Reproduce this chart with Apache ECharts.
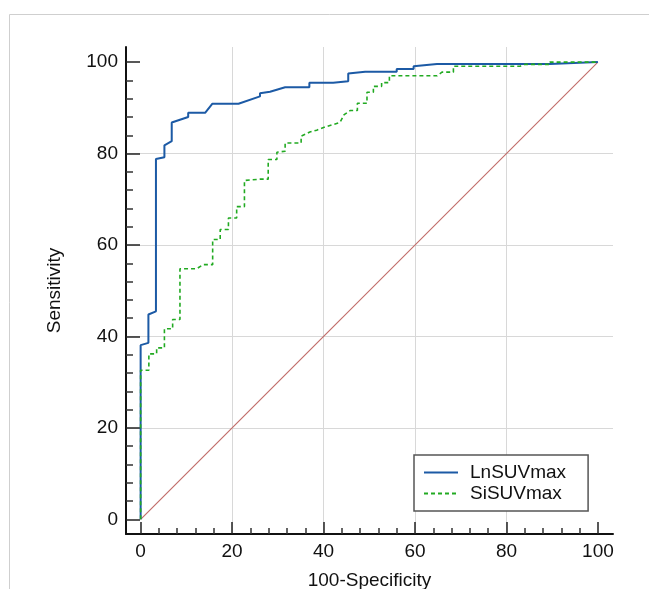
<!DOCTYPE html>
<html>
<head>
<meta charset="utf-8">
<script src="https://cdn.jsdelivr.net/npm/echarts@6/dist/echarts.min.js"></script>
<style>
html,body{margin:0;padding:0;background:#fff;}
#chart{width:649px;height:589px;}
</style>
</head>
<body>
<div id="chart"></div>
<script>
// ROC curve vertices (100-Specificity, Sensitivity)
const lnX = [0,0,1.7,1.7,3.35,3.35,5.2,5.2,6.8,6.8,8.6,10.4,10.4,14.1,15.7,21.4,26.1,26.1,28.3,31.6,36.9,36.9,42.1,45.4,45.4,49.1,56.0,56.0,59.7,59.7,64.8,89.5,89.5,100];
const lnY = [0,38.1,38.6,44.8,45.5,78.8,79.2,81.8,82.7,86.8,87.4,88.0,88.9,88.9,90.9,90.9,92.5,93.2,93.5,94.5,94.5,95.5,95.5,95.8,97.5,97.9,97.9,98.5,98.5,99.1,99.6,99.6,100,100];

const siX = [0,0,1.8,1.8,3.5,3.5,5.2,5.2,7.0,7.0,8.6,8.6,12.25,13.7,15.75,15.75,17.4,17.4,19.2,19.2,21.0,21.0,22.7,22.7,26.1,27.9,27.9,29.8,29.8,31.6,31.6,35.1,35.1,37.0,38.5,40.3,43.6,44.5,45.8,47.4,47.4,49.5,49.5,50.9,50.9,52.7,52.7,54.4,54.4,64.8,65.9,68.4,68.4,83.0,84.0,89.5,89.5,100];
const siY = [0,32.6,32.6,36.2,36.2,37.5,37.5,41.7,41.7,43.7,43.7,54.8,54.8,55.7,55.7,61.2,61.2,63.4,63.4,65.9,65.9,68.4,68.4,74.1,74.4,74.4,78.7,78.7,80.3,80.5,82.3,82.3,83.8,84.7,85.1,85.8,86.8,88.5,89.4,89.4,91.0,91.0,93.4,93.4,94.7,94.7,95.5,95.5,97.0,97.0,97.8,97.8,99.1,99.1,99.5,99.5,100,100];

const refX = [0,100];
const refY = [0,100];

const tickValues = [0,20,40,60,80,100];
const seriesNames = ['LnSUVmax','SiSUVmax'];
const xName = '100-Specificity';
const yName = 'Sensitivity';

const zip = (a,b) => a.map((v,i) => [v,b[i]]);
const FONT = "'Liberation Sans', Arial, sans-serif";

function axisCfg(isX){
  return {
    type: 'value',
    min: -3.2,
    max: 103.3,
    splitNumber: 5,
    name: isX ? xName : yName,
    nameLocation: 'middle',
    nameGap: isX ? 37 : 62,
    nameTextStyle: {fontFamily: FONT, fontSize: 19, color: '#111'},
    axisLine: {show: true, onZero: false, lineStyle: {color: '#111', width: 2}},
    axisTick: {show: true, inside: true, length: isX ? 12 : 14, customValues: tickValues,
               lineStyle: {color: '#222', width: 1.5}},
    minorTick: {show: true, splitNumber: 5, length: isX ? 6 : 7, lineStyle: {color: '#333', width: 1.5}},
    axisLabel: {customValues: tickValues, fontFamily: FONT, fontSize: 19, color: '#111', margin: 8,
                formatter: v => (Math.abs(v % 20) < 1e-6 ? String(v) : '')},
    splitLine: {show: true, showMinLine: false, showMaxLine: false, lineStyle: {color: '#d8d8d8', width: 1}}
  };
}

const chart = echarts.init(document.getElementById('chart'), null, {renderer: 'canvas'});
chart.setOption({
  backgroundColor: '#fff',
  animation: false,
  grid: {left: 126, right: 36, top: 47, bottom: 55, containLabel: false, outerBoundsMode: 'none'},
  xAxis: axisCfg(true),
  yAxis: axisCfg(false),
  legend: {
    data: seriesNames,
    orient: 'vertical',
    left: 414, top: 455,
    padding: [8, 22, 8, 9],
    itemGap: 2,
    itemWidth: 34, itemHeight: 4,
    itemStyle: {color: 'transparent', opacity: 0, borderWidth: 0},
    backgroundColor: '#fff',
    borderColor: '#555', borderWidth: 1.5,
    textStyle: {fontFamily: FONT, fontSize: 19, color: '#111', padding: [0,0,0,7]}
  },
  graphic: [{
    type: 'rect', silent: true, z: -10,
    shape: {x: 9.5, y: 14.5, width: 800, height: 800},
    style: {fill: 'none', stroke: '#cfcfcf', lineWidth: 1}
  }],
  series: [
    {type: 'line', name: 'ref', data: zip(refX, refY), symbol: 'none', silent: true,
     lineStyle: {color: '#c26e6b', width: 1.2}, z: 1},
    {type: 'line', name: seriesNames[0], data: zip(lnX, lnY), symbol: 'none',
     lineStyle: {color: '#1c5aa5', width: 2}, itemStyle: {color: '#1c5aa5'}, z: 2},
    {type: 'line', name: seriesNames[1], data: zip(siX, siY), symbol: 'none',
     lineStyle: {color: '#22aa22', width: 1.6, type: [4,3]}, itemStyle: {color: '#22aa22'}, z: 3}
  ]
});
</script>
</body>
</html>
